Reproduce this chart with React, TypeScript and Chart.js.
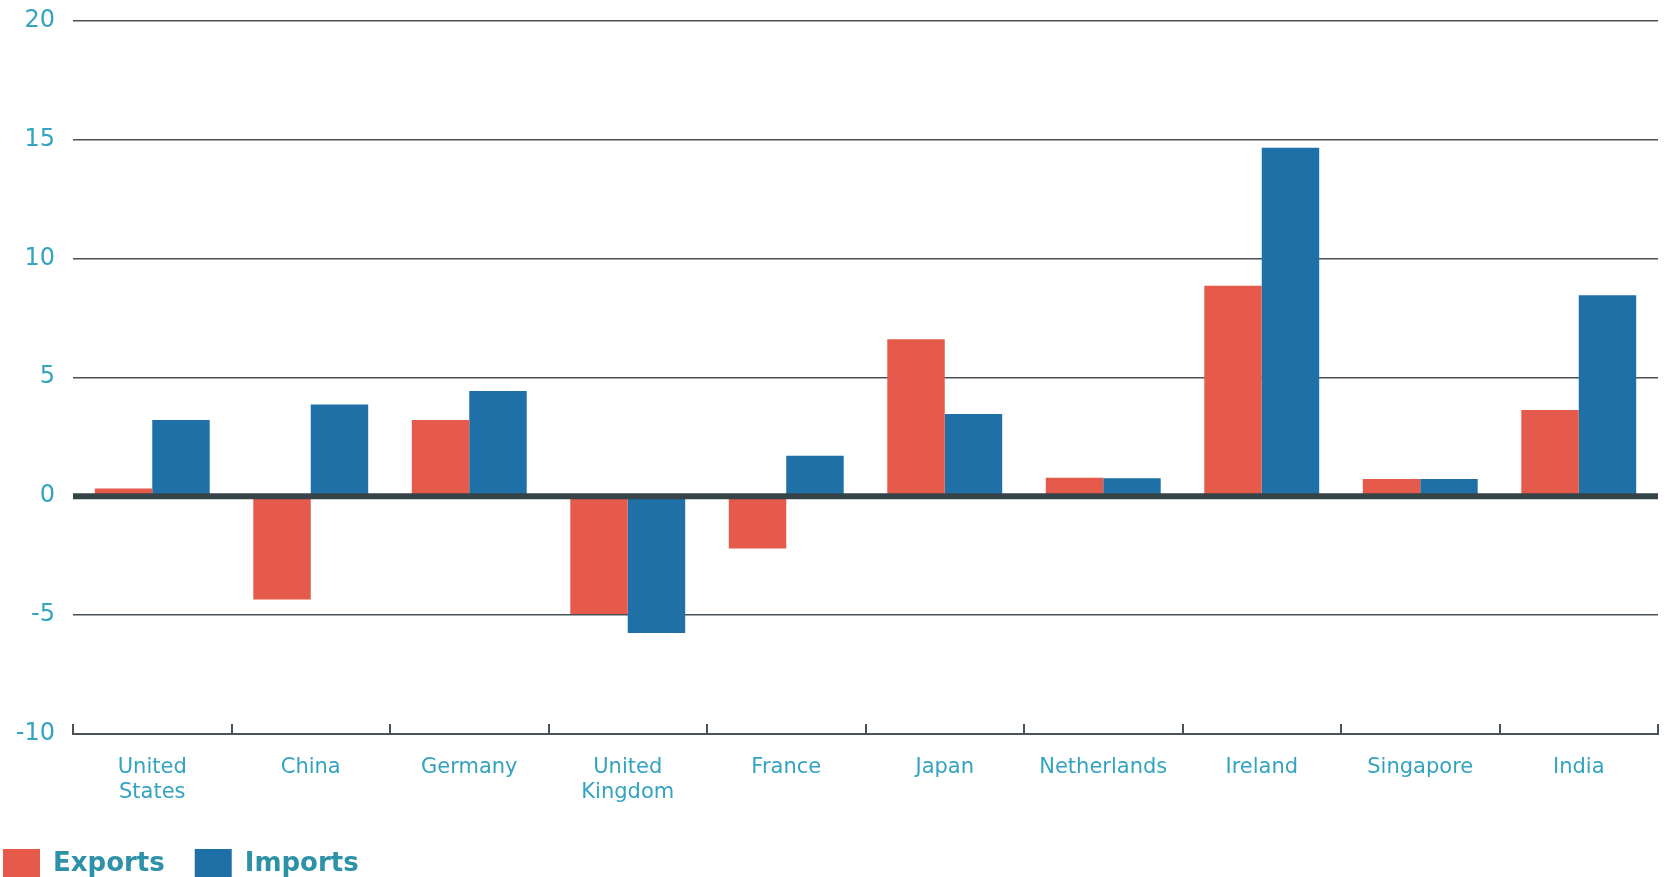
import React, { useEffect, useRef } from "react";
import { Chart, registerables } from "chart.js";

Chart.register(...registerables);

const categories: (string | string[])[] = [
  ["United", "States"],
  "China",
  "Germany",
  ["United", "Kingdom"],
  "France",
  "Japan",
  "Netherlands",
  "Ireland",
  "Singapore",
  "India",
];
const exportsValues = [0.32, -4.35, 3.2, -4.95, -2.2, 6.6, 0.77, 8.85, 0.72, 3.62];
const importsValues = [3.2, 3.85, 4.42, -5.75, 1.7, 3.45, 0.75, 14.65, 0.72, 8.45];
const yMin = -10;
const yMax = 20;
const yStep = 5;

const RED = "#e55a4b";
const BLUE = "#1f70a6";
const TEAL = "#33a3c0";
const LEGEND_TEAL = "#2d91a8";
const GRID = "#4b5257";
const ZERO = "#36444a";

const overlayPlugin = {
  id: "overlay",
  afterDatasetsDraw(chart: any) {
    const { ctx, chartArea, scales } = chart;
    const y = scales.y;
    const x = scales.x;
    ctx.save();
    // zero line on top of bars
    const y0 = y.getPixelForValue(0);
    ctx.strokeStyle = ZERO;
    ctx.lineWidth = 6;
    ctx.beginPath();
    ctx.moveTo(chartArea.left, y0);
    ctx.lineTo(chartArea.right, y0);
    ctx.stroke();
    // upward tick marks at category boundaries
    const n = categories.length;
    ctx.strokeStyle = GRID;
    ctx.lineWidth = 2;
    for (let i = 0; i <= n; i++) {
      const px = x.getPixelForValue(i - 0.5);
      const xx = Math.round(px);
      ctx.beginPath();
      ctx.moveTo(xx, chartArea.bottom);
      ctx.lineTo(xx, chartArea.bottom - 10);
      ctx.stroke();
    }
    ctx.restore();
  },
};

export default function App() {
  const ref = useRef<HTMLCanvasElement | null>(null);

  useEffect(() => {
    document.body.style.margin = "0";
    document.body.style.overflow = "hidden";
    const canvas = ref.current;
    if (!canvas) return;
    const chart = new Chart(canvas, {
      type: "bar",
      data: {
        labels: categories,
        datasets: [
          {
            label: "Exports",
            data: exportsValues,
            backgroundColor: RED,
            borderWidth: 0,
          },
          {
            label: "Imports",
            data: importsValues,
            backgroundColor: BLUE,
            borderWidth: 0,
          },
        ],
      },
      options: {
        responsive: false,
        animation: false,
        devicePixelRatio: 1,
        layout: { padding: { left: -27, right: 8, top: 20.5, bottom: -12 } },
        datasets: {
          bar: { categoryPercentage: 0.725, barPercentage: 1.0 },
        } as any,
        plugins: {
          tooltip: { enabled: false },
          legend: {
            position: "bottom",
            align: "start",
            labels: {
              boxWidth: 37,
              boxHeight: 30,
              padding: 30,
              color: LEGEND_TEAL,
              font: { family: "'DejaVu Sans', sans-serif", size: 26, weight: "bold" },
            },
          },
        },
        scales: {
          x: {
            grid: { display: true, drawOnChartArea: false, drawTicks: false, color: "transparent" },
            border: { display: true, color: GRID, width: 2 },
            ticks: {
              color: TEAL,
              font: { family: "'DejaVu Sans', sans-serif", size: 21, lineHeight: 1.19 },
              padding: 21,
              maxRotation: 0,
              autoSkip: false,
            },
            afterFit: (scale: any) => {
              scale.height = 85;
            },
          },
          y: {
            min: yMin,
            max: yMax,
            ticks: {
              stepSize: yStep,
              color: TEAL,
              padding: 0,
              font: { family: "'DejaVu Sans', sans-serif", size: 24 },
            },
            grid: {
              drawTicks: true,
              tickLength: 18,
              tickColor: "transparent",
              lineWidth: 1.5,
              color: (c: any) => (c.tick && c.tick.value === 0 ? "transparent" : GRID),
            },
            border: { display: false },
            afterFit: (scale: any) => {
              scale.width = 100;
            },
          },
        },
      },
      plugins: [overlayPlugin],
    });
    return () => chart.destroy();
  }, []);

  return (
    <div style={{ width: 1666, height: 877, position: "relative", background: "#ffffff" }}>
      <canvas ref={ref} width={1666} height={877} style={{ display: "block" }} />
    </div>
  );
}
